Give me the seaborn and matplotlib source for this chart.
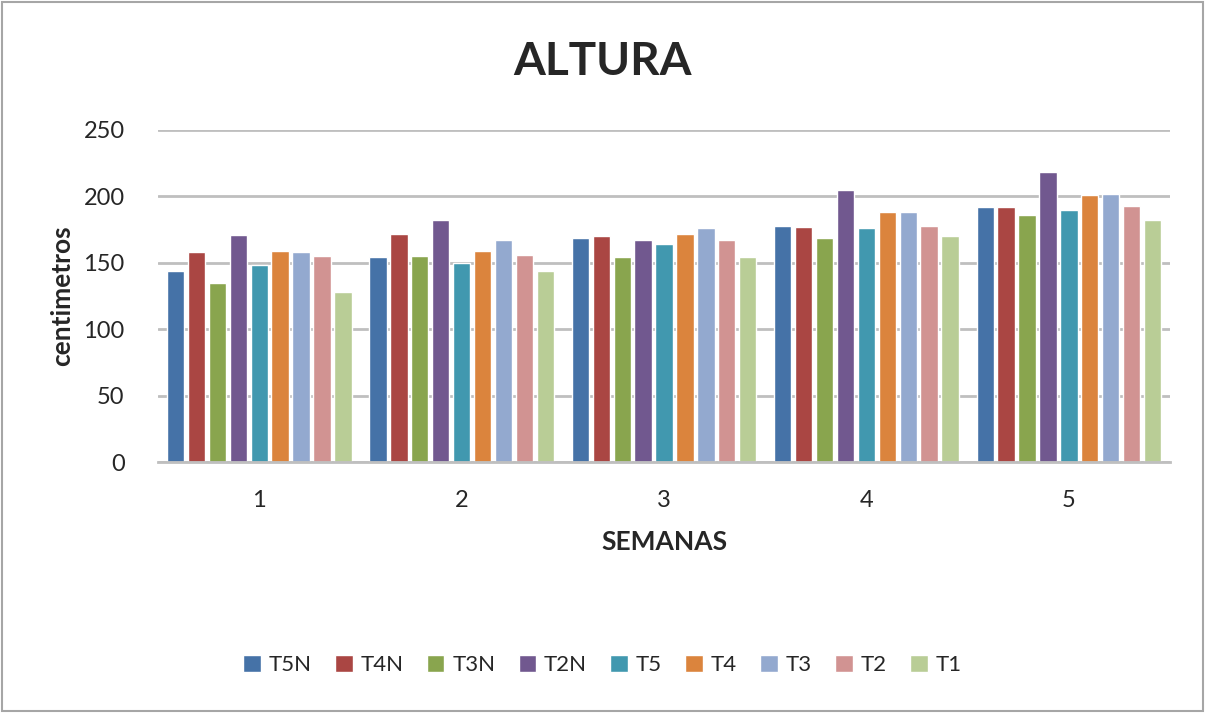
import numpy as np
import pandas as pd
import seaborn as sns
import matplotlib.pyplot as plt
from matplotlib.patches import Rectangle

# --- Datos ---
semanas = ["1", "2", "3", "4", "5"]
tratamientos = ["T5N", "T4N", "T3N", "T2N", "T5", "T4", "T3", "T2", "T1"]
t5n = [144, 154, 169, 178, 192]
t4n = [158, 172, 170, 177, 192]
t3n = [135, 155, 154, 169, 186]
t2n = [171, 182, 167, 205, 218]
t5 = [148, 150, 164, 176, 190]
t4 = [159, 159, 172, 188, 201]
t3 = [158, 167, 176, 188, 202]
t2 = [155, 156, 167, 178, 193]
t1 = [128, 144, 154, 170, 182]
colores = ["#4572A7", "#AA4643", "#89A54E", "#71588F", "#4198AF",
           "#DB843D", "#93A9CF", "#D19392", "#B9CD96"]

series = [t5n, t4n, t3n, t2n, t5, t4, t3, t2, t1]
rows = []
for trat, vals in zip(tratamientos, series):
    for sem, v in zip(semanas, vals):
        rows.append({"semana": sem, "tratamiento": trat, "altura": v})
df = pd.DataFrame(rows)

sns.set_style("white")
plt.rcParams['font.family'] = ['Lato', 'DejaVu Sans']

fig = plt.figure(figsize=(12.05, 7.13), dpi=100)
ax = fig.add_axes([0.1311, 0.352, 0.8399, 0.4657])

sns.barplot(data=df, x="semana", y="altura", hue="tratamiento",
            hue_order=tratamientos, palette=colores, order=semanas,
            width=0.93, gap=0.17, saturation=1, errorbar=None, ax=ax)

ax.set_ylim(0, 250)
ax.set_xlim(-0.5, 4.5)
ax.set_yticks([0, 50, 100, 150, 200, 250])
ax.yaxis.grid(True, color="#BFBFBF", linewidth=2)
ax.set_axisbelow(True)
for s in ["top", "right", "left"]:
    ax.spines[s].set_visible(False)
ax.spines["bottom"].set_color("#BFBFBF")
ax.spines["bottom"].set_linewidth(2)
ax.tick_params(axis="both", length=0, labelsize=17, colors="#262626")
ax.tick_params(axis="y", pad=24)
ax.tick_params(axis="x", pad=20)

ax.set_xlabel("SEMANAS", fontsize=19, fontweight="bold", labelpad=14)
ax.set_ylabel("centimetros", fontsize=19, fontweight="bold", labelpad=7)
fig.text(0.5, 0.913, "ALTURA", ha="center", va="center",
         fontsize=33, fontweight="bold")

ax.legend(loc="center", bbox_to_anchor=(0.5, 0.067), bbox_transform=fig.transFigure,
          ncol=9, frameon=False, fontsize=16, handlelength=0.8, handleheight=0.8,
          handletextpad=0.35, columnspacing=1.05)

fig.patches.append(Rectangle((0.002, 0.003), 0.996, 0.994, transform=fig.transFigure,
                             fill=False, edgecolor="#A6A6A6", linewidth=1.5))

plt.savefig("out.png", dpi=100)
plt.close()
